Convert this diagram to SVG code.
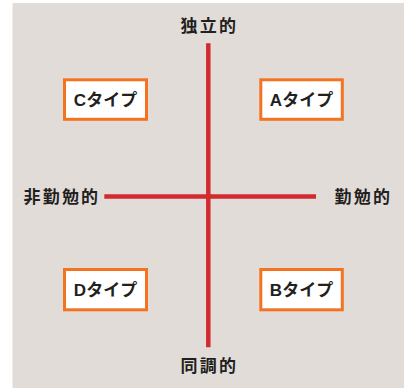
<svg xmlns="http://www.w3.org/2000/svg" width="404" height="388" viewBox="0 0 404 388">
<style>
.lbl{font-family:"Noto Sans CJK JP","Liberation Sans",sans-serif;font-weight:bold;font-size:17px;fill:#231f20;letter-spacing:2.2px}
.box{fill:#ffffff;stroke:#f37321;stroke-width:3}
.bt{font-family:"Liberation Sans","Noto Sans CJK JP",sans-serif;font-weight:bold;font-size:17px;fill:#231f20;text-anchor:middle}
.axis{stroke:#d12a2f;stroke-width:4.5;fill:none}
</style>
<rect x="12.5" y="3" width="391.5" height="385" fill="#e2dcd9"/>
<g id="connectors">
<line class="axis" x1="208.3" y1="43.3" x2="208.3" y2="347.3"/>
<line class="axis" x1="104.3" y1="196.5" x2="316" y2="196.5"/>
</g>
<g id="label-top"><text class="lbl" x="180.5" y="31.5">独立的</text></g>
<g id="label-bottom"><text class="lbl" x="180.5" y="372">同調的</text></g>
<g id="label-left"><text class="lbl" x="23.5" y="203">非勤勉的</text></g>
<g id="label-right"><text class="lbl" x="334.5" y="203">勤勉的</text></g>
<g id="node-C"><rect class="box" x="64.5" y="79.8" width="82" height="39.5"/><text class="bt" x="105.5" y="105.7">Cタイプ</text></g>
<g id="node-A"><rect class="box" x="260.8" y="79.8" width="81.5" height="39.5"/><text class="bt" x="301.5" y="105.7">Aタイプ</text></g>
<g id="node-D"><rect class="box" x="64.5" y="269.5" width="82" height="40.3"/><text class="bt" x="105.5" y="295.8">Dタイプ</text></g>
<g id="node-B"><rect class="box" x="260.8" y="269.5" width="81.5" height="40.3"/><text class="bt" x="301.5" y="295.8">Bタイプ</text></g>
</svg>
